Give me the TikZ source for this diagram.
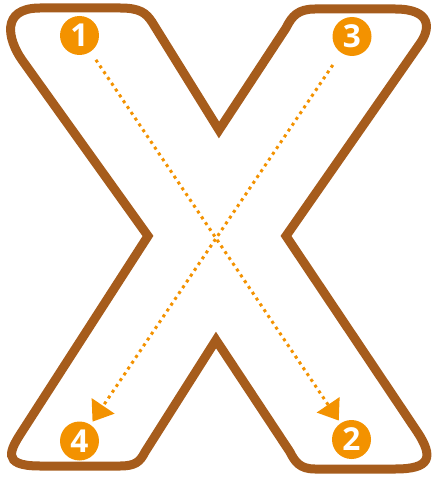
\documentclass[tikz,border=0pt]{standalone}
\usepackage{fontspec}
\setmainfont{Open Sans}
\usetikzlibrary{arrows.meta}
\definecolor{xbrown}{HTML}{A65C1C}
\definecolor{xorange}{HTML}{F39200}
\begin{document}
\begin{tikzpicture}[x=0.02cm,y=-0.02cm,
	num/.style={circle,fill=xorange,text=white,minimum size=0.78cm,inner sep=0pt,
		font=\bfseries\fontsize{18}{18}\selectfont},
	stroke/.style={draw=xorange,line width=0.06cm,dash pattern=on 0.06cm off 0.08cm,
		-{Triangle[length=0.38cm,width=0.54cm]}}]
	  \useasboundingbox (0,0) rectangle (432,479);
	  % outline of the letter
	  \draw[xbrown,line width=0.18cm,line join=miter]
	    (22,60) .. controls (8,40) and (0,8) .. (40,8) -- (120,8)
	    .. controls (140,8) and (146,13) .. (152,22) -- (219,130)
	    -- (286,28) .. controls (292,16) and (298,9) .. (315,9) -- (395,9)
	    .. controls (432,9) and (431,29) .. (419,45) -- (286,236)
	    -- (416,430) .. controls (435,458) and (430,469) .. (395,469) -- (315,469)
	    .. controls (300,469) and (295,462) .. (290,452) -- (216,340)
	    -- (145,452) .. controls (140,462) and (135,466) .. (120,466) -- (40,466)
	    .. controls (0,466) and (10,450) .. (23,430) -- (148,236) -- cycle;
	  \node[num] (n1) at (79.5,35.5) {1};
	  \node[num] (n2) at (351.5,439.5) {2};
	  \node[num] (n3) at (352,36.5) {3};
	  \node[num] (n4) at (79.5,441) {4};
	  \draw[stroke,shorten <=0.19cm,shorten >=0.06cm] (n1) -- (n2);
	  \draw[stroke,shorten <=0.29cm,shorten >=0.07cm] (n3) -- (n4);
\end{tikzpicture}
\end{document}
